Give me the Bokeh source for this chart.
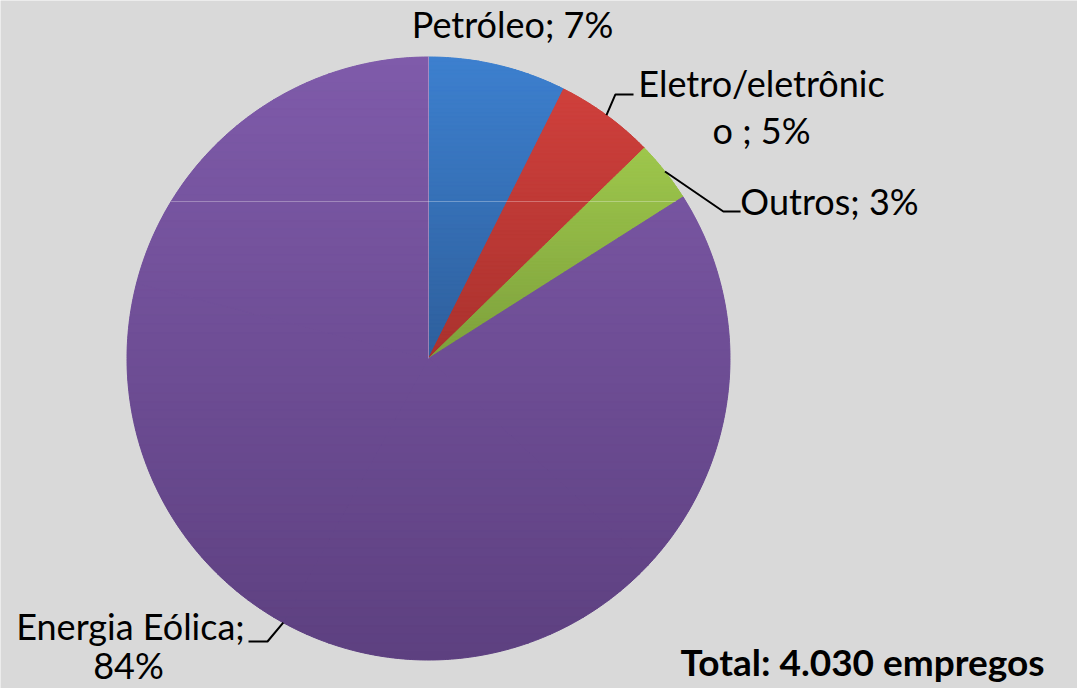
import numpy as np
from bokeh.plotting import figure
from bokeh.models import ColumnDataSource
from bokeh.core.properties import value
from bokeh.embed import file_html
from bokeh.resources import INLINE

# ---- data ----
categories = ["Petróleo", "Eletro/eletrônico", "Outros", "Energia Eólica"]
shares = [7.4, 5.3, 3.3, 84.0]
pct_labels = ["7%", "5%", "3%", "84%"]
total_label = "Total: 4.030 empregos"

# ---- style ----
BG = "#d9d9d9"
top_colors = ["#3d80cf", "#cf403c", "#9ec74c", "#7f5baa"]
bottom_colors = ["#2e5f9c", "#aa322e", "#7da03c", "#5d4080"]
FONT = "Lato"

p = figure(width=1077, height=688, x_range=(-1.4196, 2.1526), y_range=(-1.0945, 1.1874),
           x_axis_type=None, y_axis_type=None, output_backend="svg",
           toolbar_location=None, tools="", min_border=0)
p.grid.visible = False
p.outline_line_color = None
p.background_fill_color = BG
p.border_fill_color = BG

frac = np.array(shares) / np.sum(shares)
cum = np.concatenate([[0], np.cumsum(frac)])
starts = np.pi / 2 - 2 * np.pi * cum[:-1]
ends = np.pi / 2 - 2 * np.pi * cum[1:]
mids = (starts + ends) / 2

src = ColumnDataSource(dict(cat=categories, start=starts, end=ends, color=top_colors))
p.wedge(x=0, y=0, radius=1, start_angle="start", end_angle="end", direction="clock",
        fill_color="color", line_color=None, source=src)


def hex2rgb(h):
    h = h.lstrip("#")
    return np.array([int(h[i:i + 2], 16) for i in (0, 2, 4)], float)


def mix(a, b, t):
    c = hex2rgb(a) * (1 - t) + hex2rgb(b) * t
    return "#%02x%02x%02x" % tuple(int(round(v)) for v in c)


def clip(poly, yc, keep_below):
    out = []
    n = len(poly)
    for i in range(n):
        cur, prev = poly[i], poly[i - 1]
        cin = cur[1] <= yc if keep_below else cur[1] >= yc
        pin = prev[1] <= yc if keep_below else prev[1] >= yc
        if cin != pin:
            t = (yc - prev[1]) / (cur[1] - prev[1])
            out.append((prev[0] + t * (cur[0] - prev[0]), yc))
        if cin:
            out.append(cur)
    return out


# gradient bands (per slice, light at top to dark at bottom); slices split in convex parts
gx, gy, gc = [], [], []
N = 70
for k in range(len(categories)):
    n_parts = int(np.ceil(abs(starts[k] - ends[k]) / (np.pi / 2)))
    bounds = np.linspace(starts[k], ends[k], n_parts + 1)
    a_all = np.linspace(starts[k], ends[k], 2000)
    yk = np.concatenate([[0.0], np.sin(a_all)])
    ymax, ymin = yk.max(), yk.min()
    for s in range(n_parts):
        m = max(8, int(abs(bounds[s] - bounds[s + 1]) * 120))
        a = np.linspace(bounds[s], bounds[s + 1], m)
        poly = [(0.0, 0.0)] + list(zip(np.cos(a), np.sin(a)))
        edges = np.linspace(ymax, ymin, N + 1)
        for j in range(N):
            band = clip(poly, edges[j], True)
            band = clip(band, edges[j + 1], False) if len(band) >= 3 else []
            if len(band) < 3:
                continue
            t = (j + 0.5) / N
            gx.append([q[0] for q in band])
            gy.append([q[1] for q in band])
            gc.append(mix(top_colors[k], bottom_colors[k], t))
p.patches(xs="xs", ys="ys", fill_color="c", line_color="c", line_width=1,
          source=ColumnDataSource(dict(xs=gx, ys=gy, c=gc)))

# faint rendering lines seen in the original
yl = 0.5207
xl0 = -np.sqrt(1 - yl ** 2)
xl1 = yl / np.tan(ends[2])
p.segment(x0=[xl0], y0=[yl], x1=[xl1], y1=[yl], line_color="white", line_alpha=0.3, line_width=1)
p.segment(x0=[0], y0=[0], x1=[0], y1=[1], line_color="white", line_alpha=0.3, line_width=1)

# leader lines (start at slice mid-angle on the rim)
elbows = {1: [(0.620, 0.876), (0.680, 0.876)],
          2: [(0.978, 0.4876), (1.035, 0.4876)],
          3: [(-0.534, -0.9386), (-0.597, -0.9386)]}
lx, ly = [], []
for k, pts in elbows.items():
    lx.append([np.cos(mids[k])] + [q[0] for q in pts])
    ly.append([np.sin(mids[k])] + [q[1] for q in pts])
p.multi_line(xs=lx, ys=ly, line_color="black", line_width=2)

# labels
lab_text = [f"{categories[0]}; {pct_labels[0]}",
            "Eletro/eletrônic", f"o ; {pct_labels[1]}",
            f"{categories[2]}; {pct_labels[2]}",
            f"{categories[3]};", pct_labels[3]]
lab_x = [0.2786, 1.1045, 1.1045, 1.3300, -0.9884, -0.995]
lab_y = [1.110, 0.914, 0.758, 0.523, -0.888, -1.016]
p.text(x=lab_x, y=lab_y, text=lab_text, text_font=value(FONT), text_font_size="36px",
       text_align="center", text_baseline="alphabetic", text_color="black")

p.text(x=[0.836], y=[-1.006], text=[total_label], text_font=value(FONT),
       text_font_size="37px", text_font_style="bold", text_align="left",
       text_baseline="alphabetic", text_color="black")

open("out.html", "w").write(file_html(p, INLINE))
